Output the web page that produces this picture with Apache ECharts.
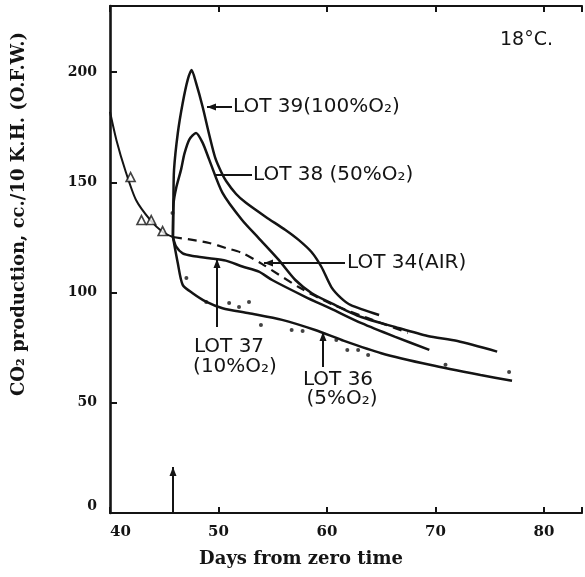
<!DOCTYPE html>
<html><head><meta charset="utf-8">
<script src="https://cdn.jsdelivr.net/npm/echarts@6/dist/echarts.min.js"></script>
<style>html,body{margin:0;padding:0;background:#fff}#c{width:585px;height:577px}</style>
</head><body><div id="c"></div>
<script>
// ---- data (days from zero time, CO2 production) ----
const xTicks = [40, 50, 60, 70, 80];
const yTicks = [0, 50, 100, 150, 200];

const preDays = [40.0, 40.6, 41.4, 42.4, 43.7, 44.85, 45.8];
const preVals = [182, 169, 155.6, 142, 133, 127.5, 125.2];

const triDays = [41.9, 42.9, 43.8, 44.85];
const triVals = [152.4, 132.9, 132.9, 127.9];

const lot39Days = [45.8, 45.84, 45.9, 46.25, 46.7, 47.16, 47.52, 47.93, 48.54, 49.15, 49.7, 50.25, 50.7, 51.62, 52.53, 54.36, 56.17, 57.38, 58.57, 59.49, 60.4, 61.3, 62.2, 64.8];
const lot39Vals = [125.2, 140.5, 155.6, 172.4, 186, 196.5, 201, 195.1, 184.2, 171.5, 161.1, 154.7, 150.6, 144.7, 140.7, 134.3, 128.4, 123.9, 118.4, 111.6, 102.5, 97.5, 94.3, 89.8];

const lot38Days = [45.8, 45.86, 46.1, 46.56, 46.86, 47.32, 47.93, 48.54, 49.15, 50.37, 52.17, 53.72, 55.55, 57.08, 58.6, 60.43, 63.15, 66.26, 69.28, 72.02, 75.68];
const lot38Vals = [125.2, 140.5, 147.5, 156, 163, 169.5, 172.4, 167.9, 160.2, 145.2, 132.9, 124.6, 114.8, 105.7, 99.7, 95.1, 88.9, 84.4, 80.3, 78, 73.2];

const lot34Days = [45.8, 47.6, 49.15, 50.7, 52.17, 54.0, 57.38, 60.4, 63.5, 67.45];
const lot34Vals = [125.2, 123.9, 122.5, 120.2, 118, 113, 102.5, 94.8, 88.9, 81.7];

const lot37Days = [45.8, 46.1, 46.7, 47.62, 49.15, 50.67, 52.2, 53.72, 54.94, 57.99, 60.4, 63.18, 66.23, 69.43];
const lot37Vals = [125.2, 120.8, 117.8, 116.6, 115.6, 114.5, 111.8, 109.5, 105.7, 98.1, 92.6, 86.1, 80, 74];

const lot36Days = [45.8, 46.25, 46.7, 47.62, 48.85, 50.37, 52.81, 55.86, 58.91, 61.35, 65, 69.58, 74.15, 77.05];
const lot36Vals = [125.2, 113.3, 103.5, 99.7, 95.9, 92.9, 90.6, 87.6, 83, 78.5, 72.5, 67.1, 62.6, 60];

const dotDays = [45.76, 47.04, 48.87, 50.98, 51.89, 52.81, 53.91, 56.74, 57.75, 60.86, 61.87, 62.87, 63.79, 70.92, 76.78];
const dotVals = [136.1, 106.6, 95.7, 95.3, 93.5, 95.7, 85.3, 83, 82.6, 78.5, 74, 74, 71.7, 67.2, 64];

// ---- helpers ----
const pts = (xs, ys) => xs.map((x, i) => [x, ys[i]]);
const INK = '#141414';
const lineSeries = (name, xs, ys, extra) => Object.assign({
  type: 'line', name, data: pts(xs, ys), symbol: 'none', showSymbol: false,
  smooth: 0.25, lineStyle: { color: INK, width: 2.5 }, animation: false, z: 3
}, extra || {});

const LETTER = 'DejaVu Sans';
const SERIF = '"DejaVu Serif", serif';

function arrow(x1, y1, x2, y2, head) {
  // head at (x1,y1)
  const els = [{ type: 'line', shape: { x1, y1, x2, y2 }, style: { stroke: INK, lineWidth: 2 }, z: 10 }];
  if (head) {
    const dx = x2 - x1, dy = y2 - y1, L = Math.hypot(dx, dy);
    const ux = dx / L, uy = dy / L, hl = 9, hw = 3.5;
    els.push({ type: 'polygon', shape: { points: [[x1, y1],
      [x1 + ux * hl - uy * hw, y1 + uy * hl + ux * hw],
      [x1 + ux * hl + uy * hw, y1 + uy * hl - ux * hw]] },
      style: { fill: INK }, z: 10 });
  }
  return els;
}
function label(text, x, y, align, size) {
  return { type: 'text', x, y, z: 10, style: { text, fill: INK, font: (size || 20) + 'px ' + LETTER,
    textAlign: align || 'left', textVerticalAlign: 'middle' } };
}

const graphics = [].concat(
  arrow(207, 107, 232, 107, true),
  arrow(214, 175, 252, 175, false),
  arrow(264, 263, 345, 263, true),
  arrow(217, 259, 217, 327, true),
  arrow(323, 332, 323, 367, true),
  arrow(173, 467, 173, 512, true),
  [
    label('LOT 39(100%O₂)', 233, 107),
    label('LOT 38 (50%O₂)', 253, 175),
    label('LOT 34(AIR)', 347, 263),
    label('LOT 37', 229, 347, 'center'),
    label('(10%O₂)', 235, 367, 'center'),
    label('LOT 36', 338, 380, 'center'),
    label('(5%O₂)', 342, 399, 'center'),
    label('18°C.', 500, 40, 'left', 19),
    { type: 'text', x: 301, y: 559, z: 10, style: { text: 'Days from zero time', fill: INK,
      font: 'bold 18px ' + SERIF, textAlign: 'center', textVerticalAlign: 'middle' } },
    { type: 'text', x: 19, y: 214, rotation: Math.PI / 2, z: 10, style: { text: 'CO₂ production, cc./10 K.H. (O.F.W.)', fill: INK,
      font: 'bold 18px ' + SERIF, textAlign: 'center', textVerticalAlign: 'middle' } }
  ]
);

const axisLineStyle = { color: INK, width: 2.2 };
const chart = echarts.init(document.getElementById('c'), null, { renderer: 'canvas' });
chart.setOption({
  backgroundColor: '#fff',
  animation: false,
  grid: { left: 110, right: 0, top: 6, bottom: 64, containLabel: false },
  xAxis: [{
    type: 'value', min: 40, max: 83.5, interval: 10, position: 'bottom',
    axisLine: { show: true, onZero: false, lineStyle: axisLineStyle },
    axisTick: { show: true, inside: true, length: 6, lineStyle: { color: INK, width: 2 } },
    axisLabel: { margin: 12, alignMinLabel: 'left', color: INK, fontFamily: SERIF, fontWeight: 'bold', fontSize: 15,
      formatter: v => xTicks.includes(v) ? String(v) : '' },
    splitLine: { show: false }
  }, {
    type: 'value', min: 40, max: 83.5, interval: 10, position: 'top',
    axisLine: { show: true, onZero: false, lineStyle: axisLineStyle },
    axisTick: { show: true, inside: true, length: 6, lineStyle: { color: INK, width: 2 } },
    axisLabel: { show: false }, splitLine: { show: false }
  }],
  yAxis: [{
    type: 'value', min: 0, max: 230, interval: 50,
    axisLine: { show: true, onZero: false, lineStyle: { color: INK, width: 2.6 } },
    axisTick: { show: true, inside: true, length: 7, lineStyle: { color: INK, width: 2 } },
    axisLabel: { margin: 13, color: INK, fontFamily: SERIF, fontWeight: 'bold', fontSize: 14,
      formatter: v => v === 0 ? '{z|0}' : (yTicks.includes(v) ? String(v) : ''),
      rich: { z: { fontFamily: SERIF, fontWeight: 'bold', fontSize: 14, color: INK, padding: [0, 0, 14, 0] } } },
    splitLine: { show: false }
  }],
  series: [
    lineSeries('pre-treatment', preDays, preVals, { lineStyle: { color: INK, width: 2 } }),
    lineSeries('LOT 39 (100% O2)', lot39Days, lot39Vals),
    lineSeries('LOT 38 (50% O2)', lot38Days, lot38Vals),
    lineSeries('LOT 34 (air)', lot34Days, lot34Vals, { lineStyle: { color: INK, width: 2.2, type: [9, 6] } }),
    lineSeries('LOT 37 (10% O2)', lot37Days, lot37Vals),
    lineSeries('LOT 36 (5% O2)', lot36Days, lot36Vals),
    { type: 'scatter', name: 'pre points', data: pts(triDays, triVals), symbol: 'triangle', symbolSize: 9,
      itemStyle: { color: '#fff', borderColor: INK, borderWidth: 1.6 }, z: 5, animation: false },
    { type: 'scatter', name: 'LOT 36 points', data: pts(dotDays, dotVals), symbol: 'circle', symbolSize: 4,
      itemStyle: { color: INK }, z: 5, animation: false }
  ],
  graphic: graphics
});
</script></body></html>
